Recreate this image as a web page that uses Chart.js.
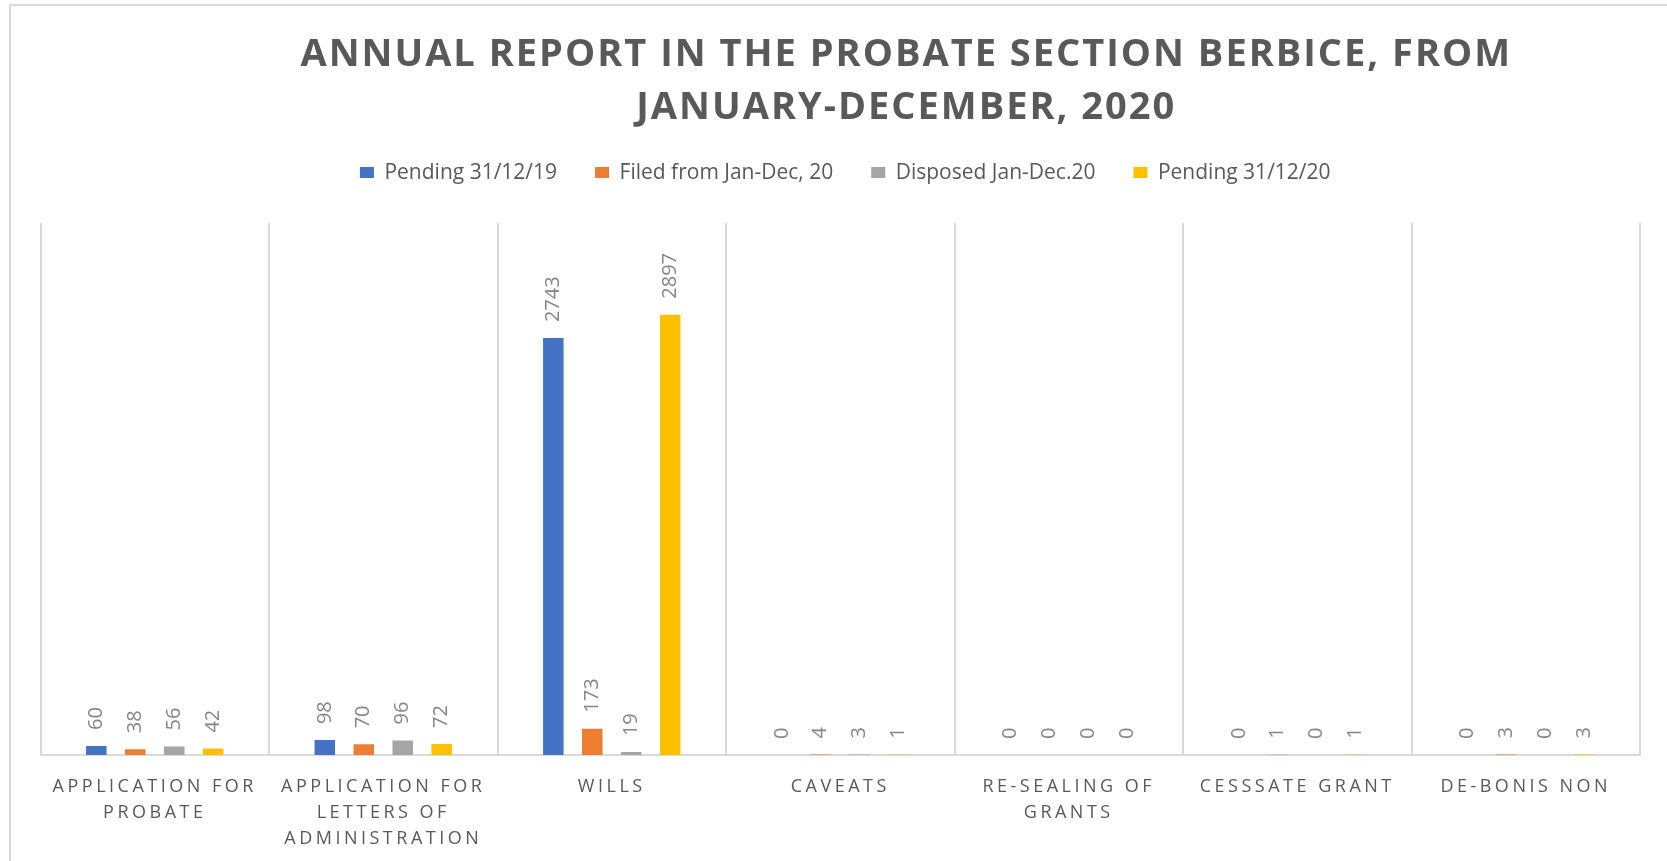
<!DOCTYPE html>
<html>
<head>
<meta charset="utf-8">
<script src="https://cdn.jsdelivr.net/npm/chart.js@4"></script>
<style>
  html, body { margin: 0; padding: 0; background: #ffffff; }
  #wrap { position: relative; width: 1667px; height: 861px; overflow: hidden; }
  #frame { position: absolute; left: 9px; top: 4px; width: 1700px; height: 900px;
           border-left: 2px solid #d9d9d9; border-top: 2px solid #d9d9d9; box-sizing: border-box; }
  #c { position: absolute; left: 0; top: 0; }
</style>
</head>
<body>
<div id="wrap">
  <div id="frame"></div>
  <canvas id="c" width="1667" height="861"></canvas>
</div>
<script>
const categories = [
  ['APPLICATION FOR', 'PROBATE'],
  ['APPLICATION FOR', 'LETTERS OF', 'ADMINISTRATION'],
  'WILLS',
  'CAVEATS',
  ['RE-SEALING OF', 'GRANTS'],
  'CESSSATE GRANT',
  'DE-BONIS NON'
];
const seriesNames = ['Pending 31/12/19', 'Filed from Jan-Dec, 20', 'Disposed Jan-Dec.20', 'Pending 31/12/20'];
const pending2019 = [60, 98, 2743, 0, 0, 0, 0];
const filed2020 = [38, 70, 173, 4, 0, 1, 3];
const disposed2020 = [56, 96, 19, 3, 0, 0, 0];
const pending2020 = [42, 72, 2897, 1, 0, 1, 3];
const seriesColors = ['#4472C4', '#ED7D31', '#A5A5A5', '#FFC000'];
const titleLines = ['ANNUAL REPORT IN THE PROBATE SECTION BERBICE, FROM', 'JANUARY-DECEMBER, 2020'];
const yMax = 3500;

const seriesValues = [pending2019, filed2020, disposed2020, pending2020];

const dataLabelPlugin = {
  id: 'barValueLabels',
  afterDatasetsDraw(chart) {
    const ctx = chart.ctx;
    ctx.save();
    ctx.font = '20px "Open Sans"';
    ctx.fillStyle = '#868686';
    ctx.textAlign = 'left';
    ctx.textBaseline = 'middle';
    chart.data.datasets.forEach((ds, i) => {
      const meta = chart.getDatasetMeta(i);
      meta.data.forEach((bar, j) => {
        ctx.save();
        ctx.translate(bar.x, bar.y - 16);
        ctx.rotate(-Math.PI / 2);
        ctx.fillText(String(ds.data[j]), 0, 0);
        ctx.restore();
      });
    });
    ctx.restore();
  }
};

const chart = new Chart(document.getElementById('c'), {
  type: 'bar',
  data: {
    labels: categories,
    datasets: seriesValues.map((vals, i) => ({
      label: seriesNames[i],
      data: vals,
      backgroundColor: seriesColors[i],
      borderWidth: 0,
      categoryPercentage: 0.682,
      barPercentage: 0.526
    }))
  },
  options: {
    responsive: false,
    animation: false,
    events: [],
    layout: { padding: { left: 40.5, right: 27, top: 0, bottom: 0 } },
    plugins: {
      tooltip: { enabled: false },
      title: {
        display: true,
        text: titleLines,
        color: '#595959',
        font: { family: '"Open Sans"', size: 38, weight: 'bold', lineHeight: 1.382 },
        padding: { top: 29, bottom: -10 }
      },
      subtitle: {
        display: true,
        text: '',
        weight: 500,
        font: { size: 30, lineHeight: 1 },
        padding: 0
      },
      legend: {
        display: true,
        position: 'top',
        labels: {
          color: '#595959',
          font: { family: '"Open Sans"', size: 21 },
          boxWidth: 14,
          boxHeight: 11,
          padding: 38
        }
      }
    },
    scales: {
      x: {
        offset: true,
        grid: { display: true, offset: true, color: '#d9d9d9', lineWidth: 2, drawTicks: false },
        border: { display: true, color: '#d9d9d9', width: 2 },
        ticks: {
          color: '#595959',
          font: { family: '"Open Sans"', size: 18, lineHeight: 1.42 },
          padding: 19.5,
          autoSkip: false,
          maxRotation: 0,
          minRotation: 0
        },
        afterFit(scale) { scale.height = 106; }
      },
      y: {
        display: false,
        min: 0,
        max: yMax
      }
    }
  },
  plugins: [dataLabelPlugin]
});

// letter spacing / offsets for title, legend and category labels
const tb = chart.titleBlock;
const origTitleDraw = tb.draw.bind(tb);
tb.draw = function () {
  const c = this.ctx;
  c.save();
  c.translate(66, 0);
  c.letterSpacing = '2px';
  origTitleDraw();
  c.restore();
};
const lg = chart.legend;
const origLegendDraw = lg.draw.bind(lg);
lg.draw = function () {
  const c = this.ctx;
  c.save();
  c.translate(5, 0);
  origLegendDraw();
  c.restore();
};
const xs = chart.scales.x;
const origLabels = xs.drawLabels.bind(xs);
xs.drawLabels = function (area) {
  const c = this.ctx;
  c.save();
  c.letterSpacing = '3.5px';
  origLabels(area);
  c.restore();
};
chart.draw();
</script>
</body>
</html>
